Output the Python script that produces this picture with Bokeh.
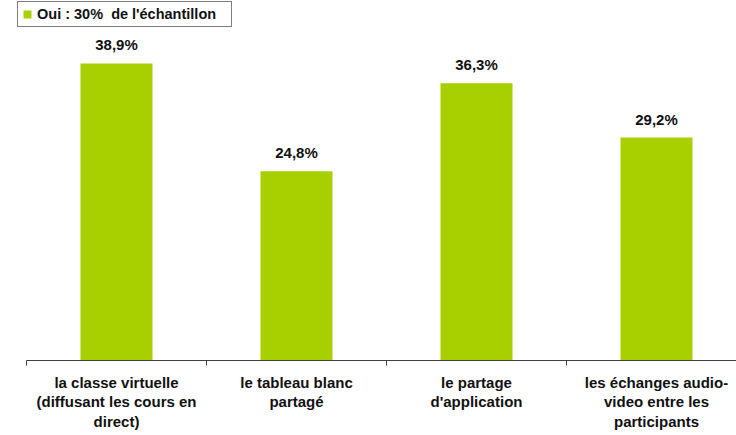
from bokeh.plotting import figure
from bokeh.models import Range1d, FixedTicker, Legend, LegendItem, ColumnDataSource
from bokeh.embed import file_html
from bokeh.resources import INLINE

categories = ["la classe virtuelle\n(diffusant les cours en\ndirect)",
              "le tableau blanc\npartagé",
              "le partage\nd'application",
              "les échanges audio-\nvideo entre les\nparticipants"]
values = [38.9, 24.8, 36.3, 29.2]
value_labels = ["38,9%", "24,8%", "36,3%", "29,2%"]
series_name = "Oui : 30%  de l'échantillon"

FONT = "Liberation Sans"
GREEN = "#a8d000"

xs = list(range(len(categories)))
src = ColumnDataSource(dict(x=xs, top=values, lab=value_labels))

p = figure(width=736, height=435, output_backend="svg", toolbar_location=None,
           x_range=Range1d(-0.55, 3.4444), y_range=Range1d(0, 47.15),
           min_border_left=17, min_border_right=0, min_border_top=0, min_border_bottom=75)
p.outline_line_color = None
p.xgrid.visible = False
p.ygrid.visible = False
p.yaxis.visible = False

bars = p.vbar(x="x", top="top", width=0.4, source=src, fill_color=GREEN, line_color=None)
p.text(x="x", y="top", text="lab", source=src, text_align="center", text_baseline="bottom",
       y_offset=-10, text_font_size="15px", text_font_style="bold",
       text_font={"value": FONT}, text_color="#111111")

ax = p.xaxis[0]
ax.bounds = (-0.5, 3.4444)
ax.ticker = FixedTicker(ticks=xs, minor_ticks=[-0.5, 0.5, 1.5, 2.5, 3.5])
ax.major_label_overrides = {i: c for i, c in enumerate(categories)}
ax.major_tick_line_color = None
ax.major_tick_out = 0
ax.minor_tick_in = 0
ax.minor_tick_out = 5
ax.minor_tick_line_color = "#404040"
ax.axis_line_color = "#404040"
ax.major_label_standoff = 8
ax.major_label_text_font = FONT
ax.major_label_text_font_size = "15px"
ax.major_label_text_font_style = "bold"
ax.major_label_text_color = "#111111"
ax.major_label_text_line_height = 1.17

legend = Legend(items=[LegendItem(label=series_name, renderers=[bars])],
                location=(0, 333), orientation="horizontal",
                border_line_color="#000000", border_line_width=1,
                background_fill_color="white", background_fill_alpha=1,
                label_text_font=FONT, label_text_font_size="14.5px",
                label_text_font_style="bold", label_text_color="#111111",
                glyph_width=10, glyph_height=10, padding=4, margin=0,
                label_standoff=5, label_height=14, label_width=190, spacing=0)
p.add_layout(legend)

open("out.html", "w").write(file_html(p, INLINE))
